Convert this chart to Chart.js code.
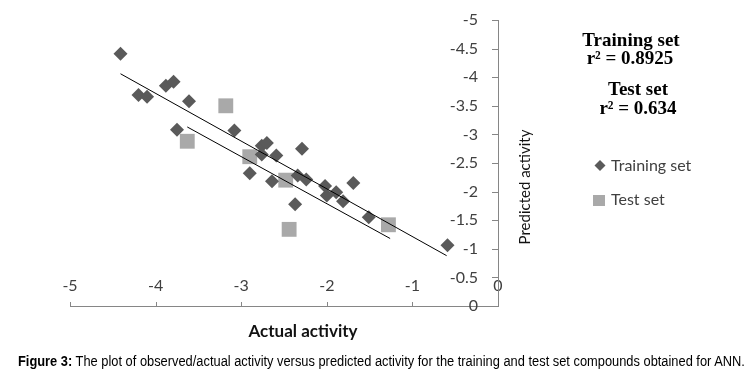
<!DOCTYPE html>
<html>
<head>
<meta charset="utf-8">
<script src="https://cdn.jsdelivr.net/npm/chart.js@4.4.1/dist/chart.umd.min.js"></script>
<style>
  body { margin: 0; background: #fff; }
  #wrap { position: relative; width: 754px; height: 374px; }
  #caption {
    position: absolute; left: 18px; top: 353px; white-space: nowrap;
    font-family: "Liberation Sans Narrow", "Arial Narrow", "Liberation Sans", sans-serif;
    font-size: 14px; color: #000; transform-origin: 0 0;
  }
</style>
</head>
<body>
<div id="wrap">
  <canvas id="chart" width="754" height="374"></canvas>
  <div id="caption"><b>Figure 3:</b> The plot of observed/actual activity versus predicted activity for the training and test set compounds obtained for ANN.</div>
</div>
<script>
// training set: actual (x) vs predicted (y)
const trainActual = [-4.41, -4.20, -4.10, -3.88, -3.79, -3.61, -3.75, -3.08, -2.76, -2.70, -2.76, -2.59, -2.29,
  -2.90, -2.64, -2.34, -2.24, -2.37, -2.02, -2.00, -1.89, -1.81, -1.69, -1.51, -0.59];
const trainPredicted = [-4.41, -3.69, -3.66, -3.85, -3.92, -3.58, -3.08, -3.07, -2.80, -2.85, -2.65, -2.63, -2.75,
  -2.32, -2.18, -2.28, -2.21, -1.78, -2.10, -1.93, -1.99, -1.83, -2.15, -1.55, -1.06];

// test set
const testActual = [-3.18, -3.63, -2.90, -2.48, -2.44, -1.28];
const testPredicted = [-3.50, -2.88, -2.61, -2.20, -1.34, -1.42];

// trend line end points
const trainFitX = [-4.41, -0.60];
const trainFitY = [-4.06, -0.88];
const testFitX = [-3.63, -1.26];
const testFitY = [-3.13, -1.18];

const xTicks = [-5, -4, -3, -2, -1, 0];
const yTicks = [-5, -4.5, -4, -3.5, -3, -2.5, -2, -1.5, -1, -0.5, 0];

const toPoints = (xs, ys) => xs.map((x, i) => ({ x: x, y: ys[i] }));

const axisColor = '#868686';
const textColor = '#404040';
const trainColor = '#5a5a5a';
const testColor = '#a9a9a9';

// the caption in the picture is set in a narrow face; squeeze it to the same width
const cap = document.getElementById('caption');
cap.style.transform = 'scaleX(' + (727 / cap.offsetWidth) + ')';

// small inward tick marks, like the original
const innerTicks = {
  id: 'innerTicks',
  afterDraw(chart) {
    const { ctx, scales: { x, y }, chartArea } = chart;
    ctx.save();
    ctx.strokeStyle = axisColor;
    ctx.lineWidth = 1;
    ctx.beginPath();
    xTicks.forEach(v => {
      const px = Math.round(x.getPixelForValue(v)) + 0.5;
      ctx.moveTo(px, chartArea.bottom);
      ctx.lineTo(px, chartArea.bottom - 4);
    });
    yTicks.forEach(v => {
      const py = Math.round(y.getPixelForValue(v)) + 0.5;
      ctx.moveTo(chartArea.right, py);
      ctx.lineTo(chartArea.right - 6, py);
    });
    ctx.stroke();
    ctx.restore();
  }
};

// titles, r² notes and legend
const labels = {
  id: 'labels',
  afterDraw(chart) {
    const ctx = chart.ctx;
    ctx.save();
    ctx.fillStyle = '#000';
    ctx.textAlign = 'center';
    ctx.textBaseline = 'middle';
    ctx.font = 'bold 19px "Liberation Serif", serif';
    ctx.fillText('Training set', 631, 41);
    ctx.fillText('r² = 0.8925', 630, 59);
    ctx.fillText('Test set', 638, 90);
    ctx.fillText('r² = 0.634', 638, 109);

    ctx.font = 'bold 17px Lato, sans-serif';
    ctx.fillStyle = '#111';
    ctx.fillText('Actual activity', 303, 332);

    ctx.save();
    ctx.translate(525, 187);
    ctx.rotate(-Math.PI / 2);
    ctx.font = '15px Lato, sans-serif';
    ctx.fillText('Predicted activity', 0, 0);
    ctx.restore();

    // legend
    ctx.fillStyle = trainColor;
    ctx.beginPath();
    ctx.moveTo(600, 160);
    ctx.lineTo(605.5, 165.5);
    ctx.lineTo(600, 171);
    ctx.lineTo(594.5, 165.5);
    ctx.closePath();
    ctx.fill();
    ctx.fillStyle = testColor;
    ctx.fillRect(593, 195, 12, 11);

    ctx.fillStyle = textColor;
    ctx.textAlign = 'left';
    ctx.font = '16px Lato, sans-serif';
    ctx.fillText('Training set', 611, 166);
    ctx.fillText('Test set', 611, 200);
    ctx.restore();
  }
};

new Chart(document.getElementById('chart'), {
  type: 'scatter',
  data: {
    datasets: [
      {
        label: 'Training fit',
        type: 'line',
        data: toPoints(trainFitX, trainFitY),
        borderColor: '#000',
        borderWidth: 1,
        pointRadius: 0,
        order: 0
      },
      {
        label: 'Test fit',
        type: 'line',
        data: toPoints(testFitX, testFitY),
        borderColor: '#000',
        borderWidth: 1,
        pointRadius: 0,
        order: 0
      },
      {
        label: 'Training set',
        data: toPoints(trainActual, trainPredicted),
        pointStyle: 'rectRot',
        pointRadius: 7,
        backgroundColor: trainColor,
        borderWidth: 0,
        order: 1
      },
      {
        label: 'Test set',
        data: toPoints(testActual, testPredicted),
        pointStyle: 'rect',
        pointRadius: 10.5,
        backgroundColor: testColor,
        borderWidth: 0,
        order: 2
      }
    ]
  },
  options: {
    responsive: false,
    animation: false,
    events: [],
    layout: { padding: { left: 70, top: 20, right: 0, bottom: 0 } },
    plugins: {
      legend: { display: false },
      tooltip: { enabled: false }
    },
    scales: {
      x: {
        type: 'linear',
        position: 'bottom',
        min: -5,
        max: 0,
        afterFit: s => { s.height = 68; },
        afterBuildTicks: s => { s.ticks = xTicks.map(v => ({ value: v })); },
        ticks: {
          mirror: true,
          padding: 11,
          color: textColor,
          font: { family: 'Lato', size: 16 },
          callback: v => String(v)
        },
        grid: { drawOnChartArea: false, drawTicks: false },
        border: { color: axisColor, width: 1 }
      },
      y: {
        type: 'linear',
        position: 'right',
        min: -5,
        max: 0,
        reverse: true,
        afterFit: s => { s.width = 256; },
        afterBuildTicks: s => { s.ticks = yTicks.map(v => ({ value: v })); },
        ticks: {
          mirror: true,
          padding: -20,
          color: textColor,
          font: { family: 'Lato', size: 16 },
          callback: v => String(v)
        },
        grid: { drawOnChartArea: false, drawTicks: false },
        border: { color: axisColor, width: 1 }
      }
    }
  },
  plugins: [innerTicks, labels]
});
</script>
</body>
</html>
